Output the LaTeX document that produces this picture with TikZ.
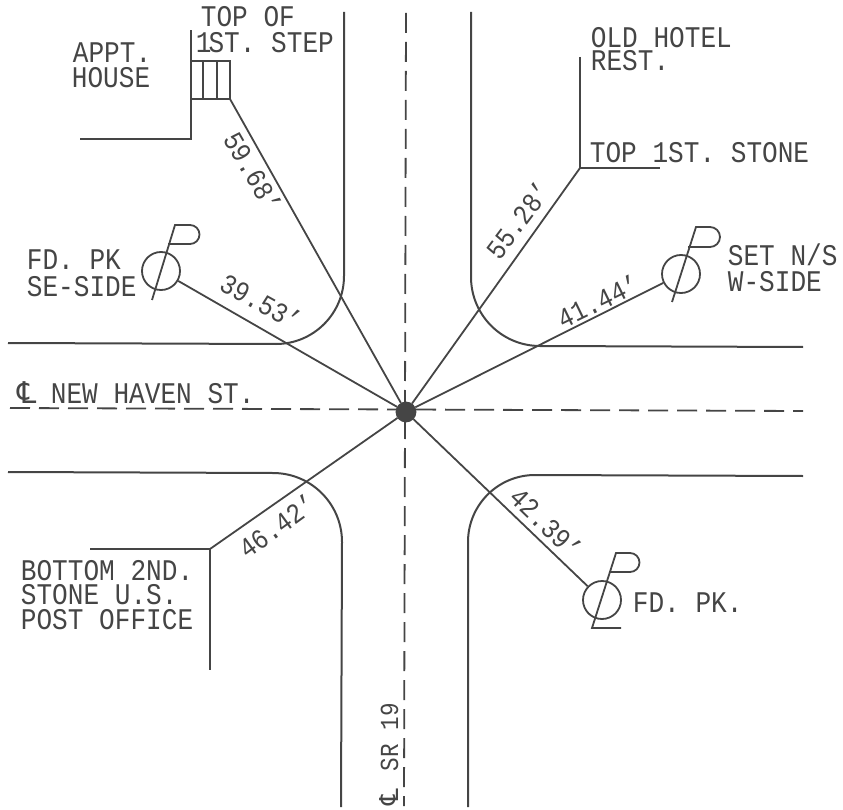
\documentclass[tikz,border=0pt]{standalone}
\usepackage{fontspec}
\setmainfont[FakeStretch=0.87]{Liberation Mono}
\newfontfamily\clfont{DejaVu Sans}
\definecolor{ink}{gray}{0.27}
\tikzset{
  x=1pt,y=-1pt,
  roadline/.style={line width=2pt},
  centerline/.style={line width=1.8pt,dash pattern=on 20pt off 9pt},
  lab/.style={anchor=base west,inner sep=0pt,text=ink,font=\fontsize{30}{30}\selectfont},
  dim/.style={anchor=center,inner sep=0pt,text=ink,font=\fontsize{28}{28}\selectfont},
  pk/.style={circle,draw=ink,minimum size=38pt,inner sep=0pt,line width=1.8pt},
  hub/.style={circle,fill=ink,draw=ink,minimum size=19pt,inner sep=0pt},
}
\begin{document}
\begin{tikzpicture}[color=ink,line width=1.8pt]
\useasboundingbox (0,0) rectangle (843,810);
% centre lines
\draw[centerline] (406,13) -- (404,806);
\draw[centerline] (10,408) -- (803,411);
% road edges
\draw[roadline] (344,12) -- (344,276) arc[start angle=0,end angle=90,radius=68] -- (8,343);
\draw[roadline] (471,12) -- (471,277) arc[start angle=180,end angle=90,radius=69] -- (803,347);
\draw[roadline] (8,472) -- (273,473) arc[start angle=-90,end angle=0,radius=69] -- (341,807);
\draw[roadline] (803,476) -- (535,475) arc[start angle=-90,end angle=-180,radius=67] -- (468,807);
% anchors
\node[hub] (ctr) at (406,412) {};
\node[pk] (fdw) at (161,271) {};
\node[pk] (setn) at (681,274) {};
\node[pk] (fds) at (602,600) {};
\coordinate (step) at (230,99);
\coordinate (stone) at (580,168);
\coordinate (post) at (210,549);
% buildings
\draw (80,139) -- (191,139) -- (191,30);
\draw (191,61) rectangle (step);
\draw (203,61) -- (203,99) (217,61) -- (217,99);
\draw (580,57) -- (stone) -- (660,168);
\draw (90,549) -- (post) -- (210,670);
% ties
\draw (ctr) -- (step);
\draw (ctr) -- (fdw);
\draw (ctr) -- (stone);
\draw (ctr) -- (setn);
\draw (ctr) -- (post);
\draw (ctr) -- (fds);
% flags
\draw (152,300) -- (175,225) -- (190,225) arc[start angle=-90,end angle=90,radius=9.5] -- (168,244);
\draw (672,302) -- (696,227) -- (710,227) arc[start angle=-90,end angle=90,radius=10] -- (688,247);
\draw (621,628) -- (592,628) -- (616,553) -- (630,553) arc[start angle=-90,end angle=90,radius=9.5] -- (609,572);
% labels
\node[lab] (t1) at (200,27) {TOP OF};
\node[lab] (t2) at (195,53) {1\hspace{-3pt}ST. STEP};
\node[lab] (t3) at (72,63) {APPT.};
\node[lab] (t4) at (71,88) {HOUSE};
\node[lab] (t5) at (26,270) {FD. PK};
\node[lab] (t6) at (26,296) {SE-SIDE};
\node[lab] (t7) at (17,403) {\makebox[33pt][l]{\clfont ℄}NEW HAVEN ST.};
\node[lab] (t8) at (590,48) {OLD HOTEL};
\node[lab] (t9) at (590,71) {REST.};
\node[lab] (t10) at (589,163) {TOP 1ST. STONE};
\node[lab] (t11) at (727,266) {SET N/S};
\node[lab] (t12) at (727,291) {W-SIDE};
\node[lab] (t13) at (20,580) {BOTTOM 2ND.};
\node[lab] (t14) at (20,604) {STONE U.S.};
\node[lab] (t15) at (20,629) {POST OFFICE};
\node[lab] (t16) at (632,612) {FD. PK.};
\node[lab,rotate=90,font=\fontsize{26}{26}\selectfont] (t17) at (398,806) {\makebox[34pt][l]{\clfont ℄}SR 19};
\node[dim,rotate=-60] (d1) at (253,172) {59.68'};
\node[dim,rotate=-29] (d2) at (261,302) {39.53'};
\node[dim,rotate=53] (d3) at (518,220) {55.28'};
\node[dim,rotate=26] (d4) at (598,301) {41.44'};
\node[dim,rotate=36] (d5) at (277,526) {46.42'};
\node[dim,rotate=-44] (d6) at (546,523) {42.39'};
\end{tikzpicture}
\end{document}
